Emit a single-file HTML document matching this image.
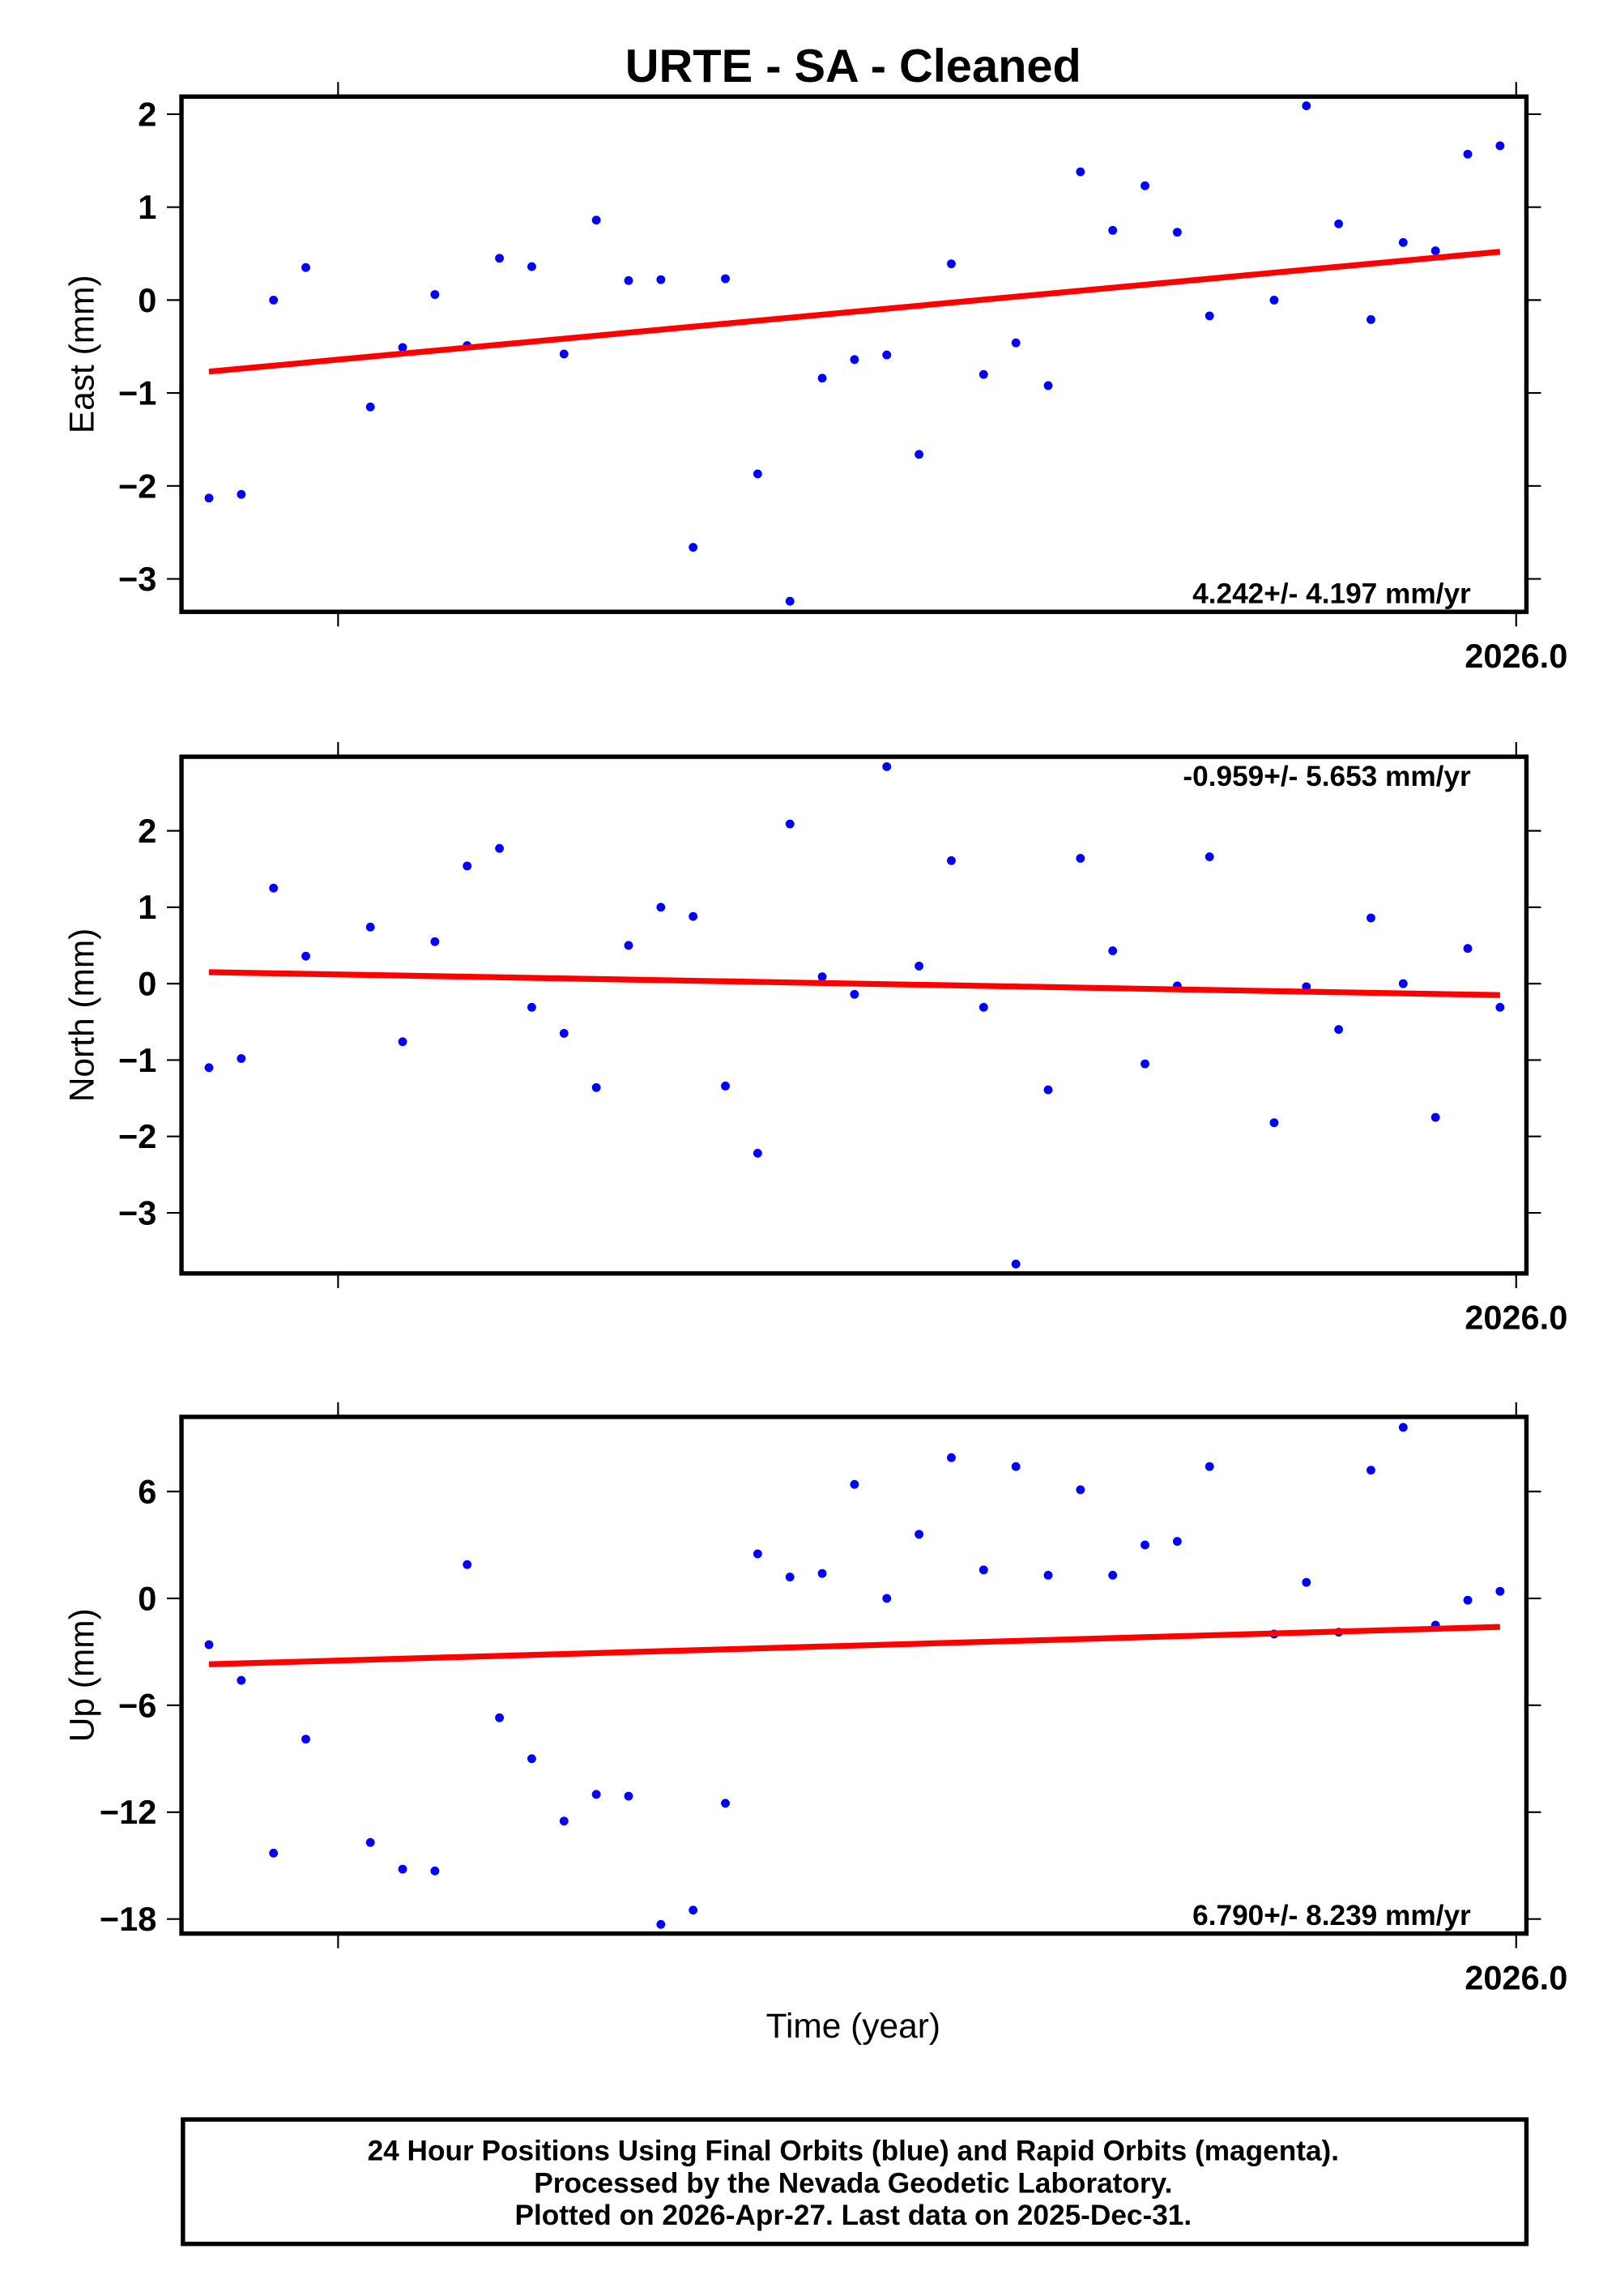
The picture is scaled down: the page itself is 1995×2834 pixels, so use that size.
<!DOCTYPE html>
<html><head><meta charset="utf-8"><style>
html,body{margin:0;padding:0;background:#fff;}
svg{display:block;font-family:"Liberation Sans",sans-serif;}
</style></head><body>
<svg id="chart" width="1995" height="2834" viewBox="0 0 1104.2 1568.6" xmlns="http://www.w3.org/2000/svg">
<rect width="1104.2" height="1568.6" fill="#fff"/>
<text x="583" y="56" text-anchor="middle" font-size="32" font-weight="bold">URTE  - SA - Cleaned</text>
<text x="583" y="1392" text-anchor="middle" font-size="23.5">Time (year)</text>
<rect x="125" y="1448" width="918" height="85" fill="none" stroke="#000" stroke-width="3"/>
<text x="583" y="1476" text-anchor="middle" font-size="19.5" font-weight="bold">24 Hour Positions Using Final Orbits (blue) and Rapid Orbits (magenta).</text>
<text x="583" y="1498" text-anchor="middle" font-size="19.5" font-weight="bold">Processed by the Nevada Geodetic Laboratory.</text>
<text x="583" y="1520" text-anchor="middle" font-size="19.5" font-weight="bold">Plotted on 2026-Apr-27. Last data on 2025-Dec-31.</text>
</svg>
<script>
// days since 2025.0
const days = [-40,-30,-20,-10,10,20,30,40,50,60,70,80,90,100,110,120,130,140,150,160,170,180,190,200,210,220,230,240,250,260,270,290,300,310,320,330,340,350,360];
const eastValues = [-2.13,-2.09,0.0,0.35,-1.15,-0.51,0.06,-0.49,0.45,0.36,-0.58,0.86,0.21,0.22,-2.66,0.23,-1.87,-3.24,-0.84,-0.64,-0.59,-1.66,0.39,-0.80,-0.46,-0.92,1.38,0.75,1.23,0.73,-0.17,0.0,2.09,0.82,-0.21,0.62,0.53,1.57,1.66];
const northValues = [-1.1,-0.98,1.25,0.36,0.74,-0.76,0.55,1.54,1.77,-0.31,-0.65,-1.36,0.5,1.0,0.88,-1.34,-2.22,2.09,0.09,-0.14,2.84,0.23,1.61,-0.31,-3.67,-1.39,1.64,0.43,-1.05,-0.03,1.66,-1.82,-0.04,-0.6,0.86,0.0,-1.75,0.46,-0.31];
const upValues = [-2.6,-4.6,-14.3,-7.9,-13.7,-15.2,-15.3,1.9,-6.7,-9.0,-12.5,-11.0,-11.1,-18.3,-17.5,-11.5,2.5,1.2,1.4,6.4,0.0,3.6,7.9,1.6,7.4,1.3,6.1,1.3,3.0,3.2,7.4,-2.0,0.9,-1.9,7.2,9.6,-1.5,-0.1,0.4];
const eastTrend = [-0.77,0.52];
const northTrend = [0.15,-0.15];
const upTrend = [-3.7,-1.6];
const eastTicks = [2,1,0,-1,-2,-3];
const northTicks = [2,1,0,-1,-2,-3];
const upTicks = [6,0,-6,-12,-18];
const rateLabels = ["4.242+/- 4.197 mm/yr","-0.959+/- 5.653 mm/yr","6.790+/- 8.239 mm/yr"];

const NS='http://www.w3.org/2000/svg';
const svg=document.getElementById('chart');
function mk(tag,attrs,parent){const e=document.createElementNS(NS,tag);for(const k in attrs)e.setAttribute(k,attrs[k]);(parent||svg).appendChild(e);return e;}
const X0=124,X1=1043;
function xScale(d){return 231+(d/365)*805;}

const panels=[
 {name:'east',title:'East (mm)',top:66,bot:418,zero:205,ppu:63.5,vals:eastValues,trend:eastTrend,ticks:eastTicks,rate:rateLabels[0],rateY:412},
 {name:'north',title:'North (mm)',top:517,bot:870,zero:672,ppu:52.2,vals:northValues,trend:northTrend,ticks:northTicks,rate:rateLabels[1],rateY:537},
 {name:'up',title:'Up (mm)',top:968,bot:1321,zero:1092,ppu:12.17,vals:upValues,trend:upTrend,ticks:upTicks,rate:rateLabels[2],rateY:1315}
];
panels.forEach(p=>{
  const g=mk('g',{});
  
  
  const y=v=>p.zero-v*p.ppu;
  p.ticks.forEach(t=>{
    const yy=y(t);
    const l1=mk('line',{x1:114,x2:X0,y1:yy,y2:yy,stroke:'#000','stroke-width':1.2},g);
    
    
    mk('line',{x1:X1,x2:X1+10,y1:yy,y2:yy,stroke:'#000','stroke-width':1.2},g);
    const tx=mk('text',{x:107,y:yy+8,'text-anchor':'end','font-size':23,'font-weight':'bold'},g);
    
    
    tx.textContent=(t<0?'\u2212'+(-t):String(t));
  });
  [0,365].forEach(d=>{
    const xx=xScale(d);
    mk('line',{x1:xx,x2:xx,y1:p.top-10,y2:p.top,stroke:'#000','stroke-width':1.2},g);
    mk('line',{x1:xx,x2:xx,y1:p.bot,y2:p.bot+10,stroke:'#000','stroke-width':1.2},g);
  });
  const xl=mk('text',{x:xScale(365),y:p.bot+38,'text-anchor':'middle','font-size':23,'font-weight':'bold'},g);
  
  
  xl.textContent='2026.0';
  const yt=mk('text',{x:0,y:0,'text-anchor':'middle','font-size':23.5,transform:`translate(64,${(p.top+p.bot)/2}) rotate(-90)`},g);
  
  
  yt.textContent=p.title;
  p.vals.forEach((v,i)=>{
    const c=mk('circle',{cx:xScale(days[i]),cy:y(v),r:3,fill:'#0000ff'},g);
    
    
  });
  const tl=mk('line',{x1:xScale(days[0]),x2:xScale(days[days.length-1]),y1:y(p.trend[0]),y2:y(p.trend[1]),stroke:'#ff0000','stroke-width':4},g);
  
  
  const fr=mk('rect',{x:X0,y:p.top,width:X1-X0,height:p.bot-p.top,fill:'none',stroke:'#000','stroke-width':3},g);
  
  
  const rt=mk('text',{x:1005,y:p.rateY,'text-anchor':'end','font-size':19.5,'font-weight':'bold'},g);
  
  
  rt.textContent=p.rate;
});
</script>
</body></html>
